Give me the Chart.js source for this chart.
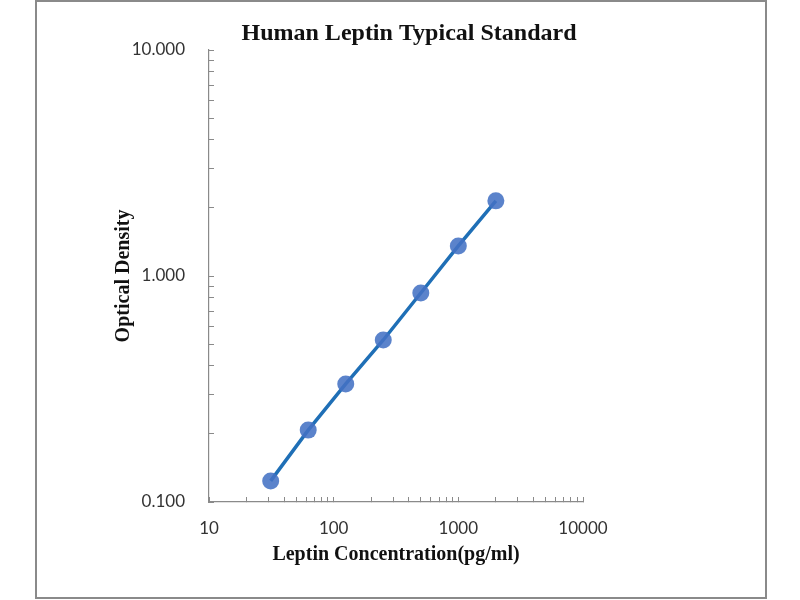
<!DOCTYPE html>
<html>
<head>
<meta charset="utf-8">
<script src="https://cdn.jsdelivr.net/npm/chart.js@4.4.1/dist/chart.umd.min.js"></script>
<style>
  html, body { margin: 0; padding: 0; background: #ffffff; }
  #wrap { position: relative; width: 800px; height: 600px; }
  #frame { position: absolute; left: 35px; top: 0px; width: 728px; height: 595px; border: 2px solid #8a8a8a; pointer-events: none; }
  canvas { position: absolute; left: 0; top: 0; }
</style>
</head>
<body>
<div id="wrap">
  <canvas id="c" width="800" height="600"></canvas>
  <div id="frame"></div>
</div>
<script>
// ---- data ----
const concentrations = [31.25, 62.5, 125, 250, 500, 1000, 2000];
const opticalDensity = [0.124, 0.208, 0.333, 0.521, 0.841, 1.358, 2.150];

// ---- ticks ----
const xTickValues = [10, 20, 30, 40, 50, 60, 70, 80, 90,
                     100, 200, 300, 400, 500, 600, 700, 800, 900,
                     1000, 2000, 3000, 4000, 5000, 6000, 7000, 8000, 9000, 10000];
const xTickLabels = ['10', '100', '1000', '10000'];
const yTickValues = [0.1, 0.2, 0.3, 0.4, 0.5, 0.6, 0.7, 0.8, 0.9,
                     1, 2, 3, 4, 5, 6, 7, 8, 9, 10];
const yTickLabels = ['0.100', '1.000', '10.000'];
const xMajor = [10, 100, 1000, 10000];
const yMajor = [0.1, 1, 10];

const titleText = 'Human Leptin Typical Standard';
const xTitle = 'Leptin Concentration(pg/ml)';
const yTitle = 'Optical Density';

const points = concentrations.map((x, i) => ({ x: x, y: opticalDensity[i] }));

function labelFor(value, majors, labels) {
  for (let i = 0; i < majors.length; i++) {
    if (Math.abs(Math.log10(value) - Math.log10(majors[i])) < 1e-6) return labels[i];
  }
  return '';
}

new Chart(document.getElementById('c'), {
  type: 'scatter',
  data: {
    datasets: [{
      data: points,
      showLine: true,
      borderColor: '#1f6fb6',
      borderWidth: 3.5,
      backgroundColor: 'rgba(68,114,196,0.88)',
      pointBackgroundColor: 'rgba(68,114,196,0.88)',
      pointBorderColor: 'rgba(68,114,196,0.88)',
      pointBorderWidth: 0,
      pointRadius: 8.5,
      pointHoverRadius: 8.5,
      tension: 0
    }]
  },
  options: {
    responsive: false,
    animation: false,
    devicePixelRatio: 1,
    layout: { padding: { left: 18, right: 0, top: 0, bottom: 0 } },
    plugins: {
      legend: { display: false },
      tooltip: { enabled: false },
      title: {
        display: true,
        text: titleText,
        color: '#111111',
        font: { family: '"Liberation Serif", "Times New Roman", serif', size: 24, weight: 'bold' },
        padding: { top: 19, bottom: 2.2 }
      }
    },
    scales: {
      x: {
        type: 'logarithmic',
        position: 'bottom',
        min: 10,
        max: 10000,
        afterBuildTicks: (scale) => { scale.ticks = xTickValues.map(v => ({ value: v })); },
        afterFit: (scale) => { scale.height = 98; },
        ticks: {
          autoSkip: false,
          maxRotation: 0,
          padding: 21,
          color: '#333333',
          font: { family: 'Lato, "Open Sans", sans-serif', size: 17 },
          callback: (value) => labelFor(value, xMajor, xTickLabels)
        },
        grid: { display: true, drawOnChartArea: false, drawTicks: true, tickLength: -5, color: '#8a8a8a', lineWidth: 1 },
        border: { display: true, color: '#8a8a8a', width: 1.2 },
        title: {
          display: true,
          text: xTitle,
          color: '#111111',
          font: { family: '"Liberation Serif", "Times New Roman", serif', size: 20, weight: 'bold' },
          padding: { top: 0, bottom: 33 }
        }
      },
      y: {
        type: 'logarithmic',
        position: 'left',
        min: 0.1,
        max: 10,
        afterBuildTicks: (scale) => { scale.ticks = yTickValues.map(v => ({ value: v })); },
        afterFit: (scale) => { scale.width = 191; },
        ticks: {
          autoSkip: false,
          padding: 29,
          color: '#333333',
          font: { family: 'Lato, "Open Sans", sans-serif', size: 17 },
          callback: (value) => labelFor(value, yMajor, yTickLabels)
        },
        grid: { display: true, drawOnChartArea: false, drawTicks: true, tickLength: -5, color: '#8a8a8a', lineWidth: 1 },
        border: { display: true, color: '#8a8a8a', width: 1.2 },
        title: {
          display: true,
          text: yTitle,
          color: '#111111',
          font: { family: '"Liberation Serif", "Times New Roman", serif', size: 20, weight: 'bold' },
          padding: { top: 94, bottom: 0 }
        }
      },
      yRight: {
        type: 'linear',
        position: 'right',
        display: true,
        afterFit: (scale) => { scale.width = 217; },
        ticks: { display: false },
        grid: { display: false, drawTicks: false },
        border: { display: false }
      }
    }
  }
});
</script>
</body>
</html>
